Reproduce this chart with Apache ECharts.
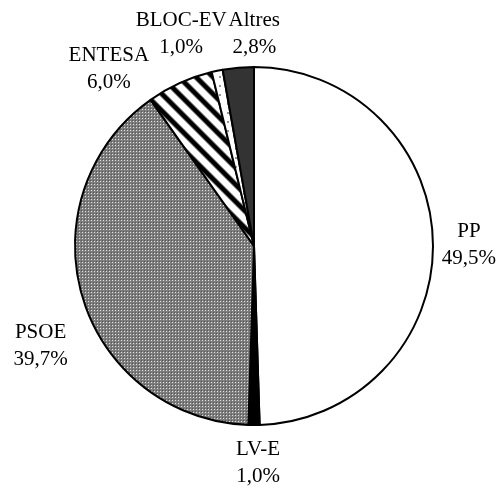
<!DOCTYPE html>
<html>
<head>
<meta charset="utf-8">
<style>
html,body{margin:0;padding:0;background:#fff;}
#chart{width:499px;height:488px;}
</style>
<script src="https://cdn.jsdelivr.net/npm/echarts@6/dist/echarts.min.js"></script>
</head>
<body>
<div id="chart"></div>
<script>
// ---- data ----
const categories = ['PP', 'LV-E', 'PSOE', 'ENTESA', 'BLOC-EV', 'Altres'];
const values = [49.5, 1.0, 39.7, 6.0, 1.0, 2.8];
const percentLabels = ['49,5%', '1,0%', '39,7%', '6,0%', '1,0%', '2,8%'];

// ---- layout / style ----
const CX = 254, CY = 246, R = 179;
// offset of each label block centre from the slice's outer mid-point
const labelOffsets = [[36, 1.5], [4, 38], [-42, 48], [-71, -14], [-36, -37], [16, -34]];

function makeTile(w, h, fn) {
  const c = document.createElement('canvas');
  c.width = w; c.height = h;
  const ctx = c.getContext('2d');
  const img = ctx.createImageData(w, h);
  for (let y = 0; y < h; y++) for (let x = 0; x < w; x++) {
    const v = fn(x, y);
    const i = (y * w + x) * 4;
    img.data[i] = img.data[i + 1] = img.data[i + 2] = v;
    img.data[i + 3] = 255;
  }
  ctx.putImageData(img, 0, 0);
  return c;
}
// fine gray check (PSOE)
const checkTile = makeTile(3, 3, (x, y) => {
  if (x === 1 && y === 1) return 225;
  if (x === 0 && y === 0) return 85;
  return 125;
});
// diagonal stripes (ENTESA)
const S = 17;
const stripeTile = makeTile(S, S, (x, y) => {
  const p = (((y - x) % S) + S) % S / S;
  const c = 0.5 + 0.5 * Math.cos(2 * Math.PI * p);
  const d = Math.min(1, Math.max(0, (c - 0.4) / 0.45));
  return Math.round(255 * (1 - d));
});
// white with small dots (BLOC-EV)
const dotTile = makeTile(8, 9, (x, y) => ((x === 3 || x === 4) && (y === 4 || y === 5)) ? 150 : 255);

const fills = [
  '#ffffff',
  '#000000',
  { image: checkTile, repeat: 'repeat' },
  { image: stripeTile, repeat: 'repeat' },
  { image: dotTile, repeat: 'repeat' },
  '#333333'
];

const total = values.reduce((a, b) => a + b, 0);
function midAngle(idx) {
  let s = 0;
  for (let i = 0; i < idx; i++) s += values[i];
  return (s + values[idx] / 2) / total * 2 * Math.PI;
}

const chart = echarts.init(document.getElementById('chart'), null, { renderer: 'canvas' });
chart.setOption({
  animation: false,
  backgroundColor: '#ffffff',
  series: [{
    type: 'pie',
    center: [CX, CY],
    radius: [0, R],
    startAngle: 90,
    clockwise: true,
    avoidLabelOverlap: false,
    silent: true,
    emphasis: { disabled: true },
    itemStyle: { borderColor: '#000000', borderWidth: 2 },
    label: {
      show: true,
      position: 'outside',
      fontFamily: 'Liberation Serif',
      fontSize: 21,
      lineHeight: 27,
      color: '#000000',
      align: 'center',
      formatter: p => p.name + '\n' + percentLabels[p.dataIndex]
    },
    labelLine: { show: false },
    labelLayout: function (params) {
      const i = params.dataIndex;
      const a = midAngle(i);
      const ex = CX + R * Math.sin(a);
      const ey = CY - R * Math.cos(a);
      return {
        x: ex + labelOffsets[i][0],
        y: ey + labelOffsets[i][1],
        align: 'center',
        verticalAlign: 'middle'
      };
    },
    data: categories.map((n, i) => ({
      name: n,
      value: values[i],
      itemStyle: { color: fills[i] }
    }))
  }]
});
</script>
</body>
</html>
